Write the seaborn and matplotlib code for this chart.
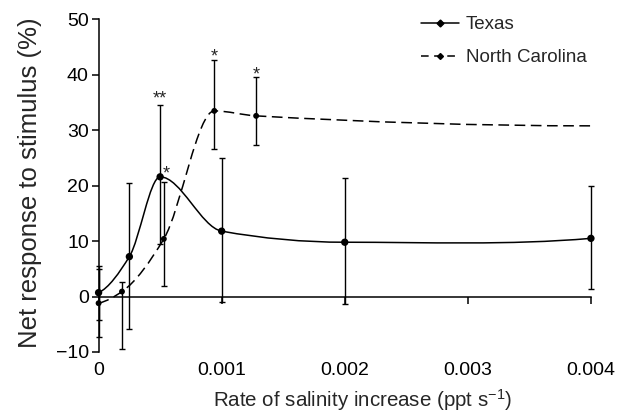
import numpy as np
import pandas as pd
import seaborn as sns
from matplotlib import pyplot as plt
from matplotlib.lines import Line2D
from matplotlib.patches import PathPatch
from matplotlib.path import Path

# values
texas_rate = [0, 0.00025, 0.0005, 0.001, 0.002, 0.004]
texas_resp = [0.7, 7.2, 21.6, 11.8, 9.8, 10.5]
texas_low = [-4.2, -5.9, 9.4, -0.9, -1.4, 1.4]
texas_high = [5.5, 20.4, 34.6, 25.0, 21.3, 19.9]

nc_rate = [0, 0.00019, 0.00053, 0.00094, 0.00128, 0.004]
nc_resp = [-1.2, 0.9, 10.4, 33.5, 32.6, 30.8]
nc_low = [-7.3, -9.5, 1.9, 26.6, 27.4, np.nan]
nc_high = [4.9, 2.6, 20.6, 42.6, 39.6, np.nan]

# significance marks sit on top of the matching error bar
star_site = ["Texas", "North Carolina", "North Carolina", "North Carolina"]
star_rate = [0.0005, 0.00053, 0.00094, 0.00128]
star_text = ["**", "*", "*", "*"]
star_nudge = [(0, 1), (1.5, 3), (0, -1), (0, -2)]  # points

xtick_values = [0, 0.001, 0.002, 0.003, 0.004]
xtick_labels = ["0", "0.001", "0.002", "0.003", "0.004"]
ytick_values = [-10, 0, 10, 20, 30, 40, 50]


def monotone_slopes(x, y):
    # Fritsch-Butland slopes (same as a PCHIP curve)
    h = np.diff(x)
    d = np.diff(y) / h
    m = np.zeros(len(x))
    for k in range(1, len(x) - 1):
        if d[k - 1] * d[k] > 0:
            w1 = 2 * h[k] + h[k - 1]
            w2 = h[k] + 2 * h[k - 1]
            m[k] = (w1 + w2) / (w1 / d[k - 1] + w2 / d[k])
    m[0] = ((2 * h[0] + h[1]) * d[0] - h[0] * d[1]) / (h[0] + h[1])
    if np.sign(m[0]) != np.sign(d[0]):
        m[0] = 0
    m[-1] = ((2 * h[-1] + h[-2]) * d[-1] - h[-1] * d[-2]) / (h[-1] + h[-2])
    if np.sign(m[-1]) != np.sign(d[-1]):
        m[-1] = 0
    return m


def smooth_path(x, y):
    # cubic bezier segments through the data points
    x = np.asarray(x, float)
    y = np.asarray(y, float)
    m = monotone_slopes(x, y)
    verts = [(x[0], y[0])]
    codes = [Path.MOVETO]
    for k in range(len(x) - 1):
        h = x[k + 1] - x[k]
        verts += [(x[k] + h / 3, y[k] + m[k] * h / 3),
                  (x[k + 1] - h / 3, y[k + 1] - m[k + 1] * h / 3),
                  (x[k + 1], y[k + 1])]
        codes += [Path.CURVE4] * 3
    return Path(verts, codes)


df = pd.concat([
    pd.DataFrame({"site": "Texas", "rate": texas_rate, "response": texas_resp,
                  "low": texas_low, "high": texas_high}),
    pd.DataFrame({"site": "North Carolina", "rate": nc_rate, "response": nc_resp,
                  "low": nc_low, "high": nc_high}),
], ignore_index=True)

sns.set_theme(style="ticks")
plt.rcParams["font.family"] = ["Liberation Sans", "DejaVu Sans"]
plt.rcParams["mathtext.fontset"] = "custom"
plt.rcParams["mathtext.rm"] = "Liberation Sans"
plt.rcParams["mathtext.it"] = "Liberation Sans:italic"

fig = plt.figure(figsize=(6.24, 4.19), dpi=100)
ax = fig.add_axes([0.158, 0.160, 0.789, 0.7936])

styles = {"Texas": dict(ls="-", ms=28), "North Carolina": dict(ls=(0, (7, 3.6)), ms=18)}

for site, group in df.groupby("site", sort=False):
    ax.add_patch(PathPatch(smooth_path(group["rate"], group["response"]),
                           facecolor="none", edgecolor="black", lw=1.1,
                           linestyle=styles[site]["ls"], zorder=2))
    bars = group.dropna(subset=["low"])
    ax.errorbar(bars["rate"], bars["response"],
                yerr=[bars["response"] - bars["low"], bars["high"] - bars["response"]],
                fmt="none", ecolor="black", elinewidth=1.0, capsize=2.2,
                capthick=1.0, zorder=2, clip_on=False)
    sns.scatterplot(data=bars, x="rate", y="response", color="black",
                    s=styles[site]["ms"], edgecolor="none", zorder=3,
                    clip_on=False, ax=ax, legend=False)

for site, rate, label, nudge in zip(star_site, star_rate, star_text, star_nudge):
    row = df[(df["site"] == site) & (df["rate"] == rate)].iloc[0]
    ax.annotate(label, xy=(rate, row["high"]), xytext=nudge,
                textcoords="offset points", ha="center", va="baseline",
                fontsize=13)

ax.set_xlim(0, 0.004)
ax.set_ylim(-10, 50)
ax.set_xticks(xtick_values, xtick_labels)
ax.set_yticks(ytick_values)
ax.spines["bottom"].set_position(("data", 0))
sns.despine(ax=ax)
for side in ["left", "bottom"]:
    ax.spines[side].set_linewidth(1.1)
    ax.spines[side].set_color("black")
ax.tick_params(axis="x", direction="out", length=5, width=1.1, pad=42,
               labelsize=14, colors="black")
ax.tick_params(axis="y", direction="out", length=5, width=1.1, pad=2,
               labelsize=14, colors="black")

ax.set_ylabel("Net response to stimulus (%)", fontsize=18.5)
ax.yaxis.set_label_coords(-0.115, 0.51)
ax.set_xlabel(r"Rate of salinity increase (ppt s$^{-1}$)", fontsize=14.8)
ax.xaxis.set_label_coords(0.537, -0.105)

handles = [
    Line2D([], [], color="black", lw=1.1, ls="-", marker="D", ms=3.5),
    Line2D([], [], color="black", lw=1.1, ls=(0, (5, 3.6)), marker="D", ms=3),
]
ax.legend(handles, ["Texas", "North Carolina"], loc="upper left",
          bbox_to_anchor=(0.655, 1.01), frameon=False, fontsize=13.5,
          handlelength=2.0, handletextpad=0.4, labelspacing=0.85,
          borderaxespad=0, borderpad=0)

fig.savefig("out.png", dpi=100)
